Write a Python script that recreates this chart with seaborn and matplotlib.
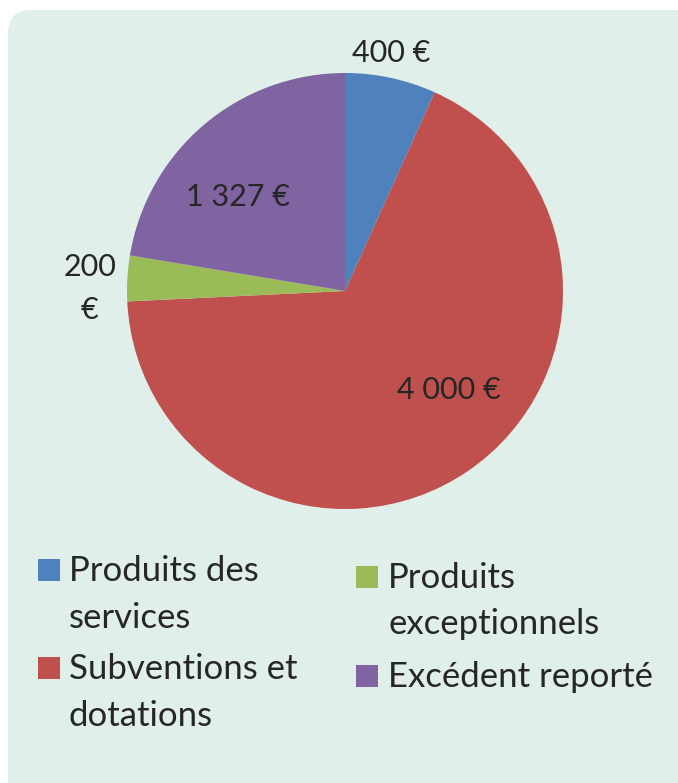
import matplotlib
matplotlib.use("Agg")
import matplotlib.pyplot as plt
from matplotlib.patches import FancyBboxPatch, Rectangle
import seaborn as sns

# data
categories = ["Produits des services", "Subventions et dotations",
              "Produits exceptionnels", "Excédent reporté"]
values = [400, 4000, 200, 1327]
value_labels = ["400 €", "4 000 €", "200\n€", "1 327 €"]
legend_labels = ["Produits des\nservices", "Subventions et\ndotations",
                 "Produits\nexceptionnels", "Excédent reporté"]

# style
colors = ["#4F81BD", "#C0504D", "#9BBB59", "#8064A2"]
label_xy = [(0.210, 1.090), (0.475, -0.455), (-1.170, 0.010), (-0.491, 0.432)]
panel_color = "#E0EFEA"
text_color = "#262626"

sns.set_style("white")
plt.rcParams["font.family"] = ["Lato", "DejaVu Sans"]

W, H = 678, 783
fig = plt.figure(figsize=(W / 100, H / 100), dpi=100)
fig.patch.set_facecolor("white")

# rounded background panel
panel = FancyBboxPatch((8 / W, -0.2), 1.2, (H - 10) / H + 0.2,
                       boxstyle="round,pad=0,rounding_size=0.035",
                       transform=fig.transFigure, facecolor=panel_color,
                       edgecolor="none", mutation_aspect=W / H, zorder=-5)
fig.patches.append(panel)

cx, cy, r = 345, 291, 218
ax = fig.add_axes([(cx - r) / W, (H - cy - r) / H, 2 * r / W, 2 * r / H])
ax.patch.set_alpha(0)
wedges, _ = ax.pie(values, colors=colors, startangle=90, counterclock=False,
                   radius=1, wedgeprops=dict(linewidth=0))
ax.set_xlim(-1, 1)
ax.set_ylim(-1, 1)
ax.set_aspect("auto")
ax.axis("off")

for txt, (x, y) in zip(value_labels, label_xy):
    ax.text(x, y, txt, ha="center", va="center", fontsize=22,
            color=text_color, clip_on=False, linespacing=1.66)

# legend, two columns, square sits on the first line's baseline
leg_x = [(38, 69), (38, 69), (356, 388), (356, 388)]
leg_base = [581, 679, 588, 687]
line_gap = 46.5
sq = 22
for lab, col, (sx, tx), b in zip(legend_labels, colors, leg_x, leg_base):
    fig.patches.append(Rectangle((sx / W, 1 - b / H), sq / W, sq / H,
                                 transform=fig.transFigure, facecolor=col,
                                 edgecolor="none", zorder=2))
    for i, line in enumerate(lab.split("\n")):
        fig.text(tx / W, 1 - (b + i * line_gap) / H, line, ha="left",
                 va="baseline", fontsize=25, color=text_color)

fig.savefig("out.png", dpi=100, facecolor="white")
